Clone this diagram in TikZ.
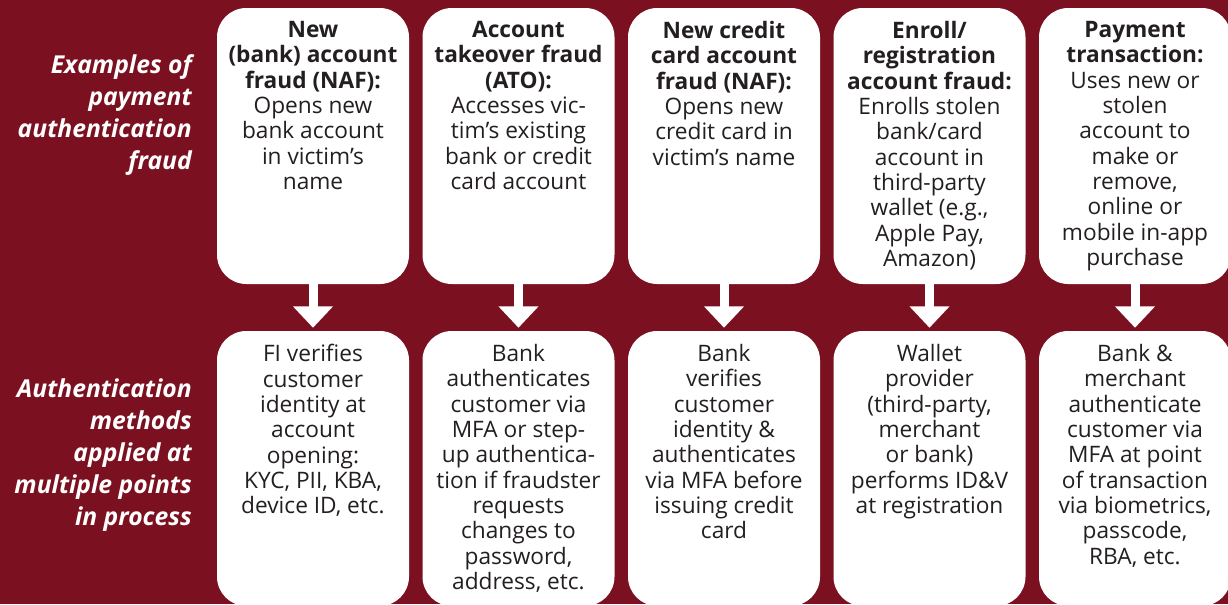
\documentclass[tikz,border=0pt]{standalone}
\usepackage{fontspec}
\setmainfont{Open Sans}
\usetikzlibrary{arrows.meta}
\definecolor{fraudred}{RGB}{123,17,32}
\definecolor{boxink}{RGB}{35,31,32}

\begin{document}
\begin{tikzpicture}[x=0.75pt,y=-0.75pt,
	fraudbox/.style={fill=white, rounded corners=22pt, minimum width=144pt,
	   minimum height=207pt, inner sep=0pt},
	authbox/.style={fraudbox, minimum height=206.25pt},
	boxtext/.style={anchor=north, align=center, inner sep=0pt, text=boxink,
	   font=\fontsize{17}{19}\selectfont},
	sidetext/.style={anchor=north east, align=right, inner sep=0pt, text=white,
	   font=\fontsize{18.5}{24}\selectfont\bfseries\itshape},
	downarrow/.style={draw=white, line width=6.75pt,
	   -{Triangle[width=29pt,length=16pt]}}]
	\useasboundingbox (0,0) rectangle (1228,604);
	\fill[fraudred] (0,0) rectangle (1228,604);
	\clip (0,0) rectangle (1228,604);
	
	\node[sidetext] (fraudlabel) at (192,54) {Examples of\\payment\\authentication\\fraud};
	\node[sidetext] (authlabel) at (192,378) {Authentication\\methods\\applied at\\multiple points\\in process};
	
	% fraud examples
	\node[fraudbox] (top1) at (313,146) {};
	\node[fraudbox] (top2) at (518.5,146) {};
	\node[fraudbox] (top3) at (724,146) {};
	\node[fraudbox] (top4) at (929.5,146) {};
	\node[fraudbox] (top5) at (1135,146) {};
	
	% authentication methods
	\node[authbox] (bot1) at (313,468.5) {};
	\node[authbox] (bot2) at (518.5,468.5) {};
	\node[authbox] (bot3) at (724,468.5) {};
	\node[authbox] (bot4) at (929.5,468.5) {};
	\node[authbox] (bot5) at (1135,468.5) {};
	
	\draw[downarrow] (top1.south) -- ([yshift=2.25pt]bot1.north);
	\draw[downarrow] (top2.south) -- ([yshift=2.25pt]bot2.north);
	\draw[downarrow] (top3.south) -- ([yshift=2.25pt]bot3.north);
	\draw[downarrow] (top4.south) -- ([yshift=2.25pt]bot4.north);
	\draw[downarrow] (top5.south) -- ([yshift=2.25pt]bot5.north);
	
	\node[boxtext] (top1txt) at ([yshift=-10pt]top1.north) {\textbf{New}\\\textbf{(bank) account}\\\textbf{fraud (NAF):}\\Opens new\\bank account\\in victim’s\\name};
	\node[boxtext] (top2txt) at ([yshift=-10pt]top2.north) {\textbf{Account}\\\textbf{takeover fraud}\\\textbf{(ATO):}\\Accesses vic-\\tim’s existing\\bank or credit\\card account};
	\node[boxtext] (top3txt) at ([yshift=-10pt]top3.north) {\textbf{New credit}\\\textbf{card account}\\\textbf{fraud (NAF):}\\Opens new\\credit card in\\victim’s name};
	\node[boxtext] (top4txt) at ([yshift=-10pt]top4.north) {\textbf{Enroll/}\\\textbf{registration}\\\textbf{account fraud:}\\Enrolls stolen\\bank/card\\account in\\third-party\\wallet (e.g.,\\Apple Pay,\\Amazon)};
	\node[boxtext] (top5txt) at ([yshift=-10pt]top5.north) {\textbf{Payment}\\\textbf{transaction:}\\Uses new or\\stolen\\account to\\make or\\remove,\\online or\\mobile in-app\\purchase};
	
	\node[boxtext] (bot1txt) at ([yshift=-10pt]bot1.north) {FI verifies\\customer\\identity at\\account\\opening:\\KYC, PII, KBA,\\device ID, etc.};
	\node[boxtext] (bot2txt) at ([yshift=-10pt]bot2.north) {Bank\\authenticates\\customer via\\MFA or step-\\up authentica-\\tion if fraudster\\requests\\changes to\\password,\\address, etc.};
	\node[boxtext] (bot3txt) at ([yshift=-10pt]bot3.north) {Bank\\verifies\\customer\\identity \&\\authenticates\\via MFA before\\issuing credit\\card};
	\node[boxtext] (bot4txt) at ([yshift=-10pt]bot4.north) {Wallet\\provider\\(third-party,\\merchant\\or bank)\\performs ID\&V\\at registration};
	\node[boxtext] (bot5txt) at ([yshift=-10pt]bot5.north) {Bank \&\\merchant\\authenticate\\customer via\\MFA at point\\of transaction\\via biometrics,\\passcode,\\RBA, etc.};
\end{tikzpicture}
\end{document}
